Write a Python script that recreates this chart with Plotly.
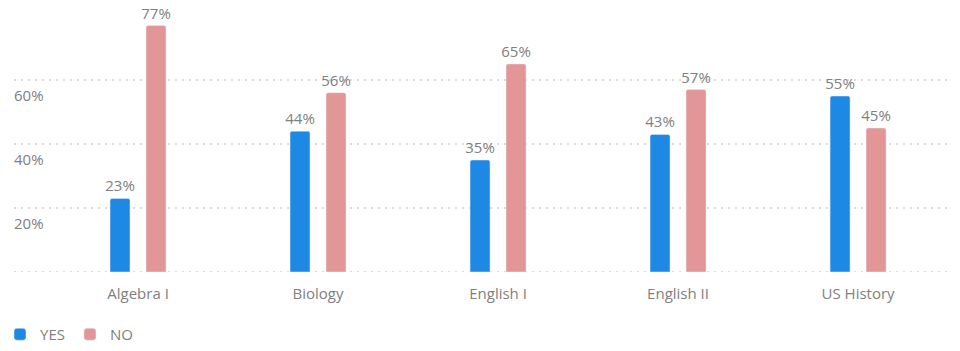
import plotly.graph_objects as go

subjects = ["Algebra I", "Biology", "English I", "English II", "US History"]
yes_pct = [23, 44, 35, 43, 55]
no_pct = [77, 56, 65, 57, 45]
y_ticks = [0, 20, 40, 60]
y_tick_labels = ["", "20%", "40%", "60%"]

BLUE = "#1E88E5"
PINK = "#E29696"
TEXT = "#808080"
GRID = "#dcdcdc"
FONT = "Open Sans"
FS = 15

fig = go.Figure()
fig.add_trace(go.Bar(
    name="YES", x=subjects, y=yes_pct,
    marker=dict(color=BLUE, cornerradius=2),
    width=0.111, offset=-0.1556,
    text=[f"{v}%" for v in yes_pct], textposition="outside",
    constraintext="none",
    textfont=dict(color=TEXT, size=FS, family=FONT),
    cliponaxis=False,
))
fig.add_trace(go.Bar(
    name="NO", x=subjects, y=no_pct,
    marker=dict(color=PINK, cornerradius=2),
    width=0.111, offset=0.0444,
    text=[f"{v}%" for v in no_pct], textposition="outside",
    constraintext="none",
    textfont=dict(color=TEXT, size=FS, family=FONT),
    cliponaxis=False,
))

# dotted baseline at 0%
fig.add_shape(
    type="line", xref="paper", yref="y", x0=0, x1=1, y0=0, y1=0,
    line=dict(color=GRID, width=2, dash="2px,5px"), layer="below",
)

fig.update_layout(
    width=960, height=351,
    margin=dict(l=14, r=13, t=18, b=79),
    paper_bgcolor="white", plot_bgcolor="white",
    font=dict(family=FONT, color=TEXT, size=FS),
    barmode="group",
    showlegend=True,
    legend=dict(
        orientation="h", xref="container", yref="container",
        x=0.0, y=0.0, xanchor="left", yanchor="bottom",
        font=dict(size=FS, color=TEXT, family=FONT),
        itemclick=False,
    ),
    xaxis=dict(
        range=[-0.689, 4.494],
        showgrid=False, zeroline=False, showline=False,
        ticks="", ticklabelstandoff=11,
        tickfont=dict(size=FS, color=TEXT, family=FONT),
    ),
    yaxis=dict(
        range=[0, 79.375],
        tickvals=y_ticks, ticktext=y_tick_labels,
        showgrid=True, gridcolor=GRID, gridwidth=2,
        griddash="2px,5px",
        zeroline=False, showline=False, ticks="",
        ticklabelposition="inside", ticklabelshift=16,
        ticklabelstandoff=-3,
        tickfont=dict(size=FS, color=TEXT, family=FONT),
    ),
)

fig.write_html("out.html")
